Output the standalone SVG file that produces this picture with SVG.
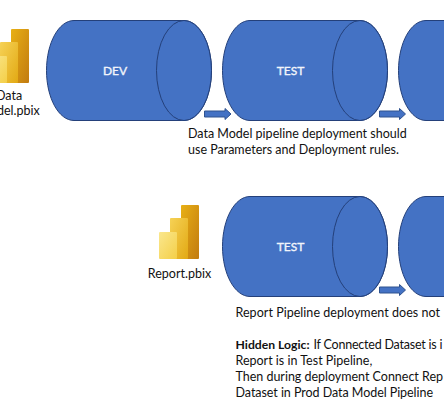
<svg xmlns="http://www.w3.org/2000/svg" xmlns:xlink="http://www.w3.org/1999/xlink" width="444" height="405" viewBox="0 0 444 405">
<style>
.cyl{fill:#4472c4;stroke:#24407a;stroke-width:1}
.arr{fill:#4472c4;stroke:#2f528f;stroke-width:1}
text{font-family:"Lato","Open Sans","Liberation Sans",sans-serif;font-size:12.5px;fill:#111}
.lbl{fill:#f2f5fb;stroke:#f2f5fb;stroke-width:.35;text-anchor:middle;font-size:12px}
.b{font-weight:700;font-size:12.2px}
</style>
<defs>
<linearGradient id="g1" x1="0" y1="0" x2="1" y2="1"><stop offset="0" stop-color="#e8b015"/><stop offset="1" stop-color="#c27b10"/></linearGradient>
<linearGradient id="g2" x1="0" y1="0" x2="1" y2="1"><stop offset="0" stop-color="#f6d256"/><stop offset="1" stop-color="#e2a914"/></linearGradient>
<linearGradient id="g3" x1="0" y1="0" x2="1" y2="1"><stop offset="0" stop-color="#fae78e"/><stop offset="1" stop-color="#f4cf48"/></linearGradient>
<g id="icon">
<rect x="22" y="0" width="18" height="54" rx="1" fill="url(#g1)"/>
<rect x="11" y="13" width="18" height="41" rx="1" fill="url(#g2)"/>
<rect x="0" y="27" width="18" height="27" rx="1" fill="url(#g3)"/>
</g>
<g id="cylinder">
<path class="cyl" d="M27.5 0H137.5C152.7 0 165 22.4 165 50S152.7 100 137.5 100H27.5C12.3 100 0 77.6 0 50S12.3 0 27.5 0Z"/>
<ellipse class="cyl" cx="137.5" cy="50" rx="27.5" ry="50"/>
</g>
</defs>
<g id="connectors">
<path class="arr" d="M204.500 111H225V108.500L231 114L225 119.500V117H204.500Z"/>
<path class="arr" d="M379.500 111H399.500V108.500L405.500 114L399.500 119.500V117H379.500Z"/>
<path class="arr" d="M379.500 287H399.500V284.500L405.500 290L399.500 295.500V293H379.500Z"/>
</g>
<g id="node-data-model">
<use xlink:href="#icon" href="#icon" x="-11" y="29"/>
<text x="9" y="100" text-anchor="middle">Data</text>
<text x="9" y="115" text-anchor="middle">Model.pbix</text>
</g>
<g id="node-dev"><use xlink:href="#cylinder" href="#cylinder" x="46.500" y="20.500"/><text class="lbl" x="115" y="75">DEV</text></g>
<g id="node-test"><use xlink:href="#cylinder" href="#cylinder" x="222.500" y="20.500"/><text class="lbl" x="290.500" y="75">TEST</text></g>
<g id="node-prod"><use xlink:href="#cylinder" href="#cylinder" x="398.500" y="20.500"/></g>
<g id="note-data-model">
<text x="188" y="138">Data Model pipeline deployment should</text>
<text x="188" y="154">use Parameters and Deployment rules.</text>
</g>
<g id="node-report">
<use xlink:href="#icon" href="#icon" x="159" y="205"/>
<text x="179.500" y="278" text-anchor="middle">Report.pbix</text>
</g>
<g id="node-report-test"><use xlink:href="#cylinder" href="#cylinder" x="222.500" y="196.500"/><text class="lbl" x="290.500" y="251">TEST</text></g>
<g id="node-report-prod"><use xlink:href="#cylinder" href="#cylinder" x="398.500" y="196.500"/></g>
<g id="note-report">
<text x="235.500" y="317" textLength="204.500">Report Pipeline deployment does not</text>
<text x="235.500" y="349"><tspan class="b">Hidden Logic:</tspan></text>
<text x="313.500" y="349" textLength="129">If Connected Dataset is i</text>
<text x="235.500" y="365">Report is in Test Pipeline,</text>
<text x="235.500" y="381" textLength="207.500">Then during deployment Connect Rep</text>
<text x="235.500" y="397" textLength="197.500">Dataset in Prod Data Model Pipeline</text>
</g>
</svg>
